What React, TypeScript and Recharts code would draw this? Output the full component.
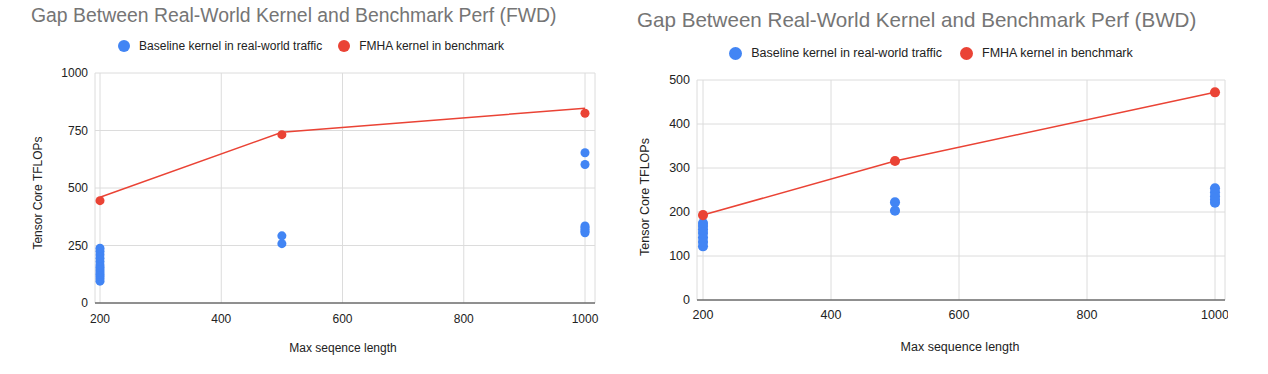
import {
  ComposedChart,
  CartesianGrid,
  XAxis,
  YAxis,
  ZAxis,
  Scatter,
  Line,
  Legend,
} from "recharts";

const FONT = "Arial, 'Liberation Sans', sans-serif";
const BLUE = "#4285F4";
const RED = "#EA4335";

const xTicks = [200, 400, 600, 800, 1000];
const fwdYTicks = [0, 250, 500, 750, 1000];
const bwdYTicks = [0, 100, 200, 300, 400, 500];

// forward pass
const fwdBaseline = [
  { x: 200, y: 95 }, { x: 200, y: 105 }, { x: 200, y: 115 }, { x: 200, y: 125 },
  { x: 200, y: 135 }, { x: 200, y: 145 }, { x: 200, y: 155 }, { x: 200, y: 165 },
  { x: 200, y: 180 }, { x: 200, y: 195 }, { x: 200, y: 210 }, { x: 200, y: 225 },
  { x: 200, y: 238 },
  { x: 500, y: 258 }, { x: 500, y: 292 },
  { x: 1000, y: 305 }, { x: 1000, y: 312 }, { x: 1000, y: 320 }, { x: 1000, y: 328 },
  { x: 1000, y: 335 }, { x: 1000, y: 602 }, { x: 1000, y: 653 },
];
const fwdFmha = [
  { x: 200, y: 445 },
  { x: 500, y: 732 },
  { x: 1000, y: 825 },
];
const fwdFmhaLine = [
  { x: 200, y: 460 },
  { x: 500, y: 742 },
  { x: 1000, y: 847 },
];

// backward pass
const bwdBaseline = [
  { x: 200, y: 122 }, { x: 200, y: 132 }, { x: 200, y: 142 }, { x: 200, y: 152 },
  { x: 200, y: 160 }, { x: 200, y: 168 }, { x: 200, y: 175 },
  { x: 500, y: 203 }, { x: 500, y: 222 },
  { x: 1000, y: 221 }, { x: 1000, y: 228 }, { x: 1000, y: 236 }, { x: 1000, y: 245 },
  { x: 1000, y: 254 },
];
const bwdFmha = [
  { x: 200, y: 193 },
  { x: 500, y: 316 },
  { x: 1000, y: 472 },
];

const makeLegend = (fontSize: number, dot: number, gap: number) => (props: any) => {
  const items = (props.payload || []).filter((p: any) => p.type !== "none");
  return (
    <div
      style={{
        display: "flex",
        justifyContent: "center",
        alignItems: "center",
        fontFamily: FONT,
        fontSize,
        color: "#222",
      }}
    >
      {items.map((p: any) => (
        <span
          key={p.value}
          style={{ display: "flex", alignItems: "center", margin: `0 ${gap}px` }}
        >
          <span
            style={{
              display: "inline-block",
              width: dot,
              height: dot,
              borderRadius: "50%",
              background: p.color,
              marginRight: 9,
            }}
          />
          {p.value}
        </span>
      ))}
    </div>
  );
};

const Txt = ({ x, y, size, color, children, rotate, anchor }: any) => (
  <div
    style={{
      position: "absolute",
      left: x,
      top: y,
      fontSize: size,
      lineHeight: `${size}px`,
      color,
      whiteSpace: "nowrap",
      transform: rotate
        ? "translate(-50%, -50%) rotate(-90deg)"
        : anchor === "middle"
        ? "translate(-50%, -50%)"
        : "translate(0, -50%)",
    }}
  >
    {children}
  </div>
);

export default function App() {
  return (
    <div
      style={{
        position: "absolute",
        left: 0,
        top: 0,
        width: 1268,
        height: 374,
        background: "#fff",
        fontFamily: FONT,
        overflow: "hidden",
      }}
    >
      {/* FWD */}
      <div style={{ position: "absolute", left: 0, top: 0 }}>
        <ComposedChart
          width={622}
          height={374}
          margin={{ top: 73, right: 27, bottom: 41, left: 0 }}
        >
          <CartesianGrid stroke="#dcdcdc" />
          <XAxis
            type="number"
            dataKey="x"
            domain={[200, 1000]}
            ticks={xTicks}
            padding={{ left: 5, right: 10 }}
            height={30}
            tickLine={false}
            tickSize={0}
            tickMargin={11}
            stroke="#333"
            tick={{ fill: "#222", fontSize: 12, fontFamily: FONT }}
          />
          <YAxis
            type="number"
            dataKey="y"
            domain={[0, 1000]}
            ticks={fwdYTicks}
            width={95}
            axisLine={false}
            tickLine={false}
            tickSize={0}
            tickMargin={7}
            tick={{ fill: "#222", fontSize: 12, fontFamily: FONT }}
          />
          <ZAxis range={[64, 64]} />
          <Legend
            layout="horizontal"
            verticalAlign="middle"
            align="center"
            wrapperStyle={{ top: 39, left: 0, width: 622 }}
            content={makeLegend(12, 12, 8)}
          />
          <Line
            data={fwdFmhaLine}
            dataKey="y"
            stroke={RED}
            strokeWidth={1.5}
            dot={false}
            activeDot={false}
            legendType="none"
            isAnimationActive={false}
          />
          <Scatter
            name="Baseline kernel in real-world traffic"
            data={fwdBaseline}
            fill={BLUE}
            isAnimationActive={false}
          />
          <Scatter
            name="FMHA kernel in benchmark"
            data={fwdFmha}
            fill={RED}
            isAnimationActive={false}
          />
        </ComposedChart>
      </div>

      {/* BWD */}
      <div style={{ position: "absolute", left: 634, top: 0 }}>
        <ComposedChart
          width={594}
          height={374}
          margin={{ top: 80, right: 3, bottom: 44, left: 0 }}
        >
          <CartesianGrid stroke="#dcdcdc" />
          <XAxis
            type="number"
            dataKey="x"
            domain={[200, 1000]}
            ticks={xTicks}
            padding={{ left: 6, right: 10 }}
            height={30}
            tickLine={false}
            tickSize={0}
            tickMargin={10}
            stroke="#333"
            tick={{ fill: "#222", fontSize: 12.5, fontFamily: FONT }}
          />
          <YAxis
            type="number"
            dataKey="y"
            domain={[0, 500]}
            ticks={bwdYTicks}
            width={63}
            axisLine={false}
            tickLine={false}
            tickSize={0}
            tickMargin={7}
            tick={{ fill: "#222", fontSize: 12.5, fontFamily: FONT }}
          />
          <ZAxis range={[80, 80]} />
          <Legend
            layout="horizontal"
            verticalAlign="middle"
            align="center"
            wrapperStyle={{ top: 46, left: 0, width: 594 }}
            content={makeLegend(12.5, 13, 9)}
          />
          <Line
            data={bwdFmha}
            dataKey="y"
            stroke={RED}
            strokeWidth={1.5}
            dot={false}
            activeDot={false}
            legendType="none"
            isAnimationActive={false}
          />
          <Scatter
            name="Baseline kernel in real-world traffic"
            data={bwdBaseline}
            fill={BLUE}
            isAnimationActive={false}
          />
          <Scatter
            name="FMHA kernel in benchmark"
            data={bwdFmha}
            fill={RED}
            isAnimationActive={false}
          />
        </ComposedChart>
      </div>

      <Txt x={31} y={16} size={19.4} color="#757575">
        Gap Between Real-World Kernel and Benchmark Perf (FWD)
      </Txt>
      <Txt x={637} y={20} size={20.6} color="#757575">
        Gap Between Real-World Kernel and Benchmark Perf (BWD)
      </Txt>
      <Txt x={38} y={193} size={12} color="#222" rotate>
        Tensor Core TFLOPs
      </Txt>
      <Txt x={645} y={197} size={12.5} color="#222" rotate>
        Tensor Core TFLOPs
      </Txt>
      <Txt x={343} y={348} size={12} color="#222" anchor="middle">
        Max seqence length
      </Txt>
      <Txt x={960} y={347} size={12.5} color="#222" anchor="middle">
        Max sequence length
      </Txt>
    </div>
  );
}
